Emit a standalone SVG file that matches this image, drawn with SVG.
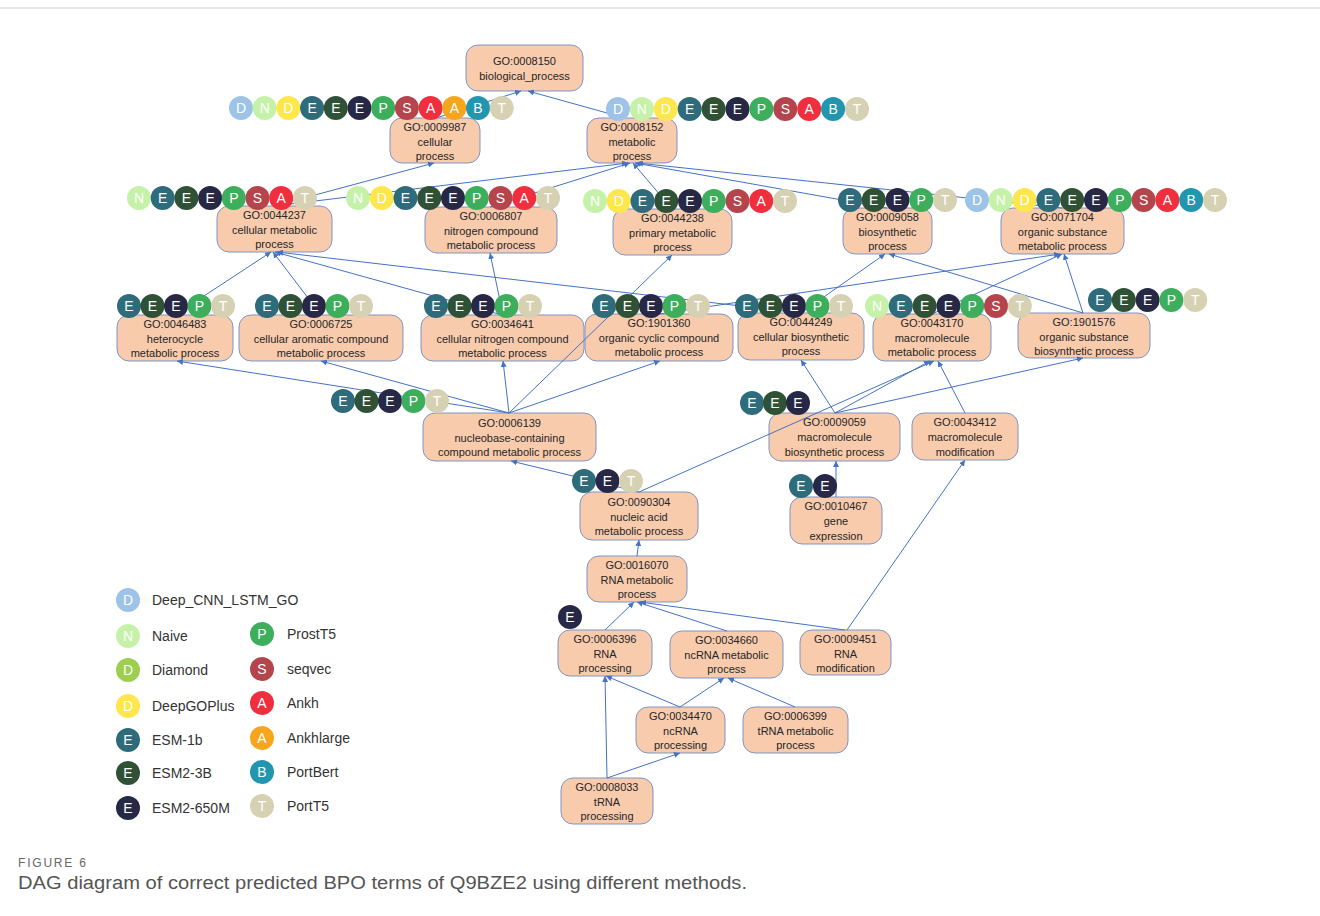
<svg xmlns="http://www.w3.org/2000/svg" width="1320" height="916" viewBox="0 0 1320 916">
<style>
.box{fill:#F8CBAD;stroke:#7F95C3;stroke-width:1}
.lbl{font-family:"Liberation Sans",Arial,sans-serif;font-size:11px;fill:#262626;text-anchor:middle}
.edge{stroke:#4472C4;stroke-width:1;fill:none;marker-end:url(#arr)}
.bl{font-family:"Liberation Sans",Arial,sans-serif;font-size:14px;fill:#fff;text-anchor:middle}
.leg{font-family:"Liberation Sans",Arial,sans-serif;font-size:14px;fill:#333}
</style>
<defs>
<marker id="arr" viewBox="0 0 10 10" refX="10" refY="5" markerWidth="6" markerHeight="6" markerUnits="userSpaceOnUse" orient="auto"><path d="M0,0 L10,5 L0,10 z" fill="#4472C4"/></marker>
<g id="dl"><circle r="12" fill="#9DC3E6"/><text class="bl" y="5">D</text></g>
<g id="na"><circle r="12" fill="#C5F2A8"/><text class="bl" y="5">N</text></g>
<g id="di"><circle r="12" fill="#9CCF4E"/><text class="bl" y="5">D</text></g>
<g id="dg"><circle r="12" fill="#FDE74C"/><text class="bl" y="5">D</text></g>
<g id="e1"><circle r="12" fill="#2E6B7B"/><text class="bl" y="5">E</text></g>
<g id="e3"><circle r="12" fill="#2F5136"/><text class="bl" y="5">E</text></g>
<g id="e6"><circle r="12" fill="#262845"/><text class="bl" y="5">E</text></g>
<g id="pt"><circle r="12" fill="#3DAE5C"/><text class="bl" y="5">P</text></g>
<g id="sv"><circle r="12" fill="#B5444C"/><text class="bl" y="5">S</text></g>
<g id="an"><circle r="12" fill="#EF2F3D"/><text class="bl" y="5">A</text></g>
<g id="al"><circle r="12" fill="#F6A51D"/><text class="bl" y="5">A</text></g>
<g id="pb"><circle r="12" fill="#2196AE"/><text class="bl" y="5">B</text></g>
<g id="t5"><circle r="12" fill="#D7D1B3"/><text class="bl" y="5">T</text></g>
</defs>
<rect width="1320" height="916" fill="#fff"/>
<line x1="0" y1="8" x2="1320" y2="8" stroke="#cfcfcf" stroke-width="1"/>

<g id="n0008150"><rect class="box" x="466" y="45" width="117" height="46" rx="12"/><text class="lbl" x="524.5" y="65">GO:0008150</text><text class="lbl" x="524.5" y="80">biological_process</text></g>
<g id="n0009987"><rect class="box" x="390" y="118" width="90" height="45" rx="12"/><text class="lbl" x="435" y="131">GO:0009987</text><text class="lbl" x="435" y="145.5">cellular</text><text class="lbl" x="435" y="160">process</text></g>
<g id="n0008152"><rect class="box" x="587" y="118" width="90" height="45" rx="12"/><text class="lbl" x="632" y="131">GO:0008152</text><text class="lbl" x="632" y="145.5">metabolic</text><text class="lbl" x="632" y="160">process</text></g>
<g id="n0044237"><rect class="box" x="217" y="206" width="115" height="46" rx="12"/><text class="lbl" x="274.5" y="219">GO:0044237</text><text class="lbl" x="274.5" y="233.5">cellular metabolic</text><text class="lbl" x="274.5" y="248">process</text></g>
<g id="n0006807"><rect class="box" x="425" y="207" width="132" height="46" rx="12"/><text class="lbl" x="491" y="220">GO:0006807</text><text class="lbl" x="491" y="234.5">nitrogen compound</text><text class="lbl" x="491" y="249">metabolic process</text></g>
<g id="n0044238"><rect class="box" x="613" y="209" width="119" height="46" rx="12"/><text class="lbl" x="672.5" y="222">GO:0044238</text><text class="lbl" x="672.5" y="236.5">primary metabolic</text><text class="lbl" x="672.5" y="251">process</text></g>
<g id="n0009058"><rect class="box" x="843" y="208" width="89" height="46" rx="12"/><text class="lbl" x="887.5" y="221">GO:0009058</text><text class="lbl" x="887.5" y="235.5">biosynthetic</text><text class="lbl" x="887.5" y="250">process</text></g>
<g id="n0071704"><rect class="box" x="1001" y="208" width="123" height="46" rx="12"/><text class="lbl" x="1062.5" y="221">GO:0071704</text><text class="lbl" x="1062.5" y="235.5">organic substance</text><text class="lbl" x="1062.5" y="250">metabolic process</text></g>
<g id="n0046483"><rect class="box" x="117" y="315" width="116" height="46" rx="12"/><text class="lbl" x="175" y="328">GO:0046483</text><text class="lbl" x="175" y="342.5">heterocycle</text><text class="lbl" x="175" y="357">metabolic process</text></g>
<g id="n0006725"><rect class="box" x="239" y="315" width="164" height="46" rx="12"/><text class="lbl" x="321" y="328">GO:0006725</text><text class="lbl" x="321" y="342.5">cellular aromatic compound</text><text class="lbl" x="321" y="357">metabolic process</text></g>
<g id="n0034641"><rect class="box" x="421" y="315" width="163" height="46" rx="12"/><text class="lbl" x="502.5" y="328">GO:0034641</text><text class="lbl" x="502.5" y="342.5">cellular nitrogen compound</text><text class="lbl" x="502.5" y="357">metabolic process</text></g>
<g id="n1901360"><rect class="box" x="585" y="314" width="148" height="47" rx="12"/><text class="lbl" x="659" y="327">GO:1901360</text><text class="lbl" x="659" y="341.5">organic cyclic compound</text><text class="lbl" x="659" y="356">metabolic process</text></g>
<g id="n0044249"><rect class="box" x="738" y="313" width="126" height="47" rx="12"/><text class="lbl" x="801" y="326">GO:0044249</text><text class="lbl" x="801" y="340.5">cellular biosynthetic</text><text class="lbl" x="801" y="355">process</text></g>
<g id="n0043170"><rect class="box" x="873" y="314" width="118" height="47" rx="12"/><text class="lbl" x="932" y="327">GO:0043170</text><text class="lbl" x="932" y="341.5">macromolecule</text><text class="lbl" x="932" y="356">metabolic process</text></g>
<g id="n1901576"><rect class="box" x="1018" y="313" width="132" height="45" rx="12"/><text class="lbl" x="1084" y="326">GO:1901576</text><text class="lbl" x="1084" y="340.5">organic substance</text><text class="lbl" x="1084" y="355">biosynthetic process</text></g>
<g id="n0006139"><rect class="box" x="423" y="413" width="173" height="48" rx="12"/><text class="lbl" x="509.5" y="427">GO:0006139</text><text class="lbl" x="509.5" y="441.5">nucleobase-containing</text><text class="lbl" x="509.5" y="456">compound metabolic process</text></g>
<g id="n0009059"><rect class="box" x="769" y="413" width="131" height="48" rx="12"/><text class="lbl" x="834.5" y="426">GO:0009059</text><text class="lbl" x="834.5" y="441">macromolecule</text><text class="lbl" x="834.5" y="455.5">biosynthetic process</text></g>
<g id="n0043412"><rect class="box" x="912" y="413" width="106" height="47" rx="12"/><text class="lbl" x="965" y="426">GO:0043412</text><text class="lbl" x="965" y="441">macromolecule</text><text class="lbl" x="965" y="455.5">modification</text></g>
<g id="n0090304"><rect class="box" x="580" y="492" width="118" height="48" rx="12"/><text class="lbl" x="639" y="506">GO:0090304</text><text class="lbl" x="639" y="520.5">nucleic acid</text><text class="lbl" x="639" y="535">metabolic process</text></g>
<g id="n0010467"><rect class="box" x="790" y="497" width="92" height="47" rx="12"/><text class="lbl" x="836" y="510">GO:0010467</text><text class="lbl" x="836" y="525">gene</text><text class="lbl" x="836" y="539.5">expression</text></g>
<g id="n0016070"><rect class="box" x="587" y="556" width="100" height="46" rx="12"/><text class="lbl" x="637" y="569">GO:0016070</text><text class="lbl" x="637" y="583.5">RNA metabolic</text><text class="lbl" x="637" y="598">process</text></g>
<g id="n0006396"><rect class="box" x="558" y="630" width="94" height="46" rx="12"/><text class="lbl" x="605" y="643">GO:0006396</text><text class="lbl" x="605" y="657.5">RNA</text><text class="lbl" x="605" y="672">processing</text></g>
<g id="n0034660"><rect class="box" x="670" y="631" width="113" height="47" rx="12"/><text class="lbl" x="726.5" y="644">GO:0034660</text><text class="lbl" x="726.5" y="658.5">ncRNA metabolic</text><text class="lbl" x="726.5" y="673">process</text></g>
<g id="n0009451"><rect class="box" x="800" y="630" width="91" height="45" rx="12"/><text class="lbl" x="845.5" y="643">GO:0009451</text><text class="lbl" x="845.5" y="657.5">RNA</text><text class="lbl" x="845.5" y="672">modification</text></g>
<g id="n0034470"><rect class="box" x="636" y="707" width="89" height="46" rx="12"/><text class="lbl" x="680.5" y="720">GO:0034470</text><text class="lbl" x="680.5" y="734.5">ncRNA</text><text class="lbl" x="680.5" y="749">processing</text></g>
<g id="n0006399"><rect class="box" x="743" y="707" width="105" height="46" rx="12"/><text class="lbl" x="795.5" y="720">GO:0006399</text><text class="lbl" x="795.5" y="734.5">tRNA metabolic</text><text class="lbl" x="795.5" y="749">process</text></g>
<g id="n0008033"><rect class="box" x="561" y="778" width="92" height="46" rx="12"/><text class="lbl" x="607" y="791">GO:0008033</text><text class="lbl" x="607" y="805.5">tRNA</text><text class="lbl" x="607" y="820">processing</text></g>

<g id="connectors">
<line class="edge" x1="436" y1="118" x2="521" y2="91"/>
<line class="edge" x1="625" y1="118" x2="528" y2="91"/>
<line class="edge" x1="274" y1="206" x2="434" y2="163"/>
<line class="edge" x1="274" y1="206" x2="628" y2="163"/>
<line class="edge" x1="490" y1="207" x2="630" y2="163"/>
<line class="edge" x1="672" y1="209" x2="633" y2="163"/>
<line class="edge" x1="887" y1="208" x2="635" y2="163"/>
<line class="edge" x1="1062" y1="208" x2="637" y2="163"/>
<line class="edge" x1="175" y1="315" x2="271" y2="252"/>
<line class="edge" x1="321" y1="315" x2="273" y2="252"/>
<line class="edge" x1="502" y1="315" x2="275" y2="252"/>
<line class="edge" x1="801" y1="313" x2="277" y2="252"/>
<line class="edge" x1="503" y1="315" x2="490" y2="253"/>
<line class="edge" x1="659" y1="314" x2="1060" y2="254"/>
<line class="edge" x1="801" y1="313" x2="885" y2="254"/>
<line class="edge" x1="1083" y1="313" x2="889" y2="254"/>
<line class="edge" x1="932" y1="314" x2="1062" y2="254"/>
<line class="edge" x1="1083" y1="313" x2="1064" y2="254"/>
<line class="edge" x1="509" y1="413" x2="177" y2="361"/>
<line class="edge" x1="509" y1="413" x2="321" y2="361"/>
<line class="edge" x1="509" y1="413" x2="503" y2="361"/>
<line class="edge" x1="509" y1="413" x2="660" y2="361"/>
<line class="edge" x1="509" y1="413" x2="672" y2="255"/>
<line class="edge" x1="835" y1="413" x2="801" y2="360"/>
<line class="edge" x1="835" y1="413" x2="930" y2="361"/>
<line class="edge" x1="835" y1="413" x2="1083" y2="358"/>
<line class="edge" x1="965" y1="413" x2="938" y2="361"/>
<line class="edge" x1="639" y1="492" x2="511" y2="461"/>
<line class="edge" x1="639" y1="492" x2="934" y2="361"/>
<line class="edge" x1="836" y1="497" x2="836" y2="461"/>
<line class="edge" x1="637" y1="556" x2="639" y2="540"/>
<line class="edge" x1="605" y1="630" x2="634" y2="602"/>
<line class="edge" x1="727" y1="631" x2="637" y2="602"/>
<line class="edge" x1="845" y1="630" x2="640" y2="602"/>
<line class="edge" x1="847" y1="630" x2="965" y2="460"/>
<line class="edge" x1="680" y1="707" x2="606" y2="676"/>
<line class="edge" x1="680" y1="707" x2="724" y2="678"/>
<line class="edge" x1="795" y1="707" x2="728" y2="678"/>
<line class="edge" x1="607" y1="778" x2="605" y2="676"/>
<line class="edge" x1="607" y1="778" x2="680" y2="753"/>
</g>

<g id="b0009987" transform="translate(0,108)"><use href="#dl" x="241"/><use href="#na" x="264.7"/><use href="#dg" x="288.4"/><use href="#e1" x="312.1"/><use href="#e3" x="335.8"/><use href="#e6" x="359.5"/><use href="#pt" x="383.2"/><use href="#sv" x="406.9"/><use href="#an" x="430.6"/><use href="#al" x="454.3"/><use href="#pb" x="478"/><use href="#t5" x="501.7"/></g>
<g id="b0008152" transform="translate(0,109)"><use href="#dl" x="618"/><use href="#na" x="641.9"/><use href="#dg" x="665.8"/><use href="#e1" x="689.7"/><use href="#e3" x="713.6"/><use href="#e6" x="737.5"/><use href="#pt" x="761.4"/><use href="#sv" x="785.3"/><use href="#an" x="809.2"/><use href="#pb" x="833.1"/><use href="#t5" x="857"/></g>
<g id="b0044237" transform="translate(0,198)"><use href="#na" x="139"/><use href="#e1" x="162.7"/><use href="#e3" x="186.4"/><use href="#e6" x="210.1"/><use href="#pt" x="233.8"/><use href="#sv" x="257.5"/><use href="#an" x="281.2"/><use href="#t5" x="304.9"/></g>
<g id="b0006807" transform="translate(0,198)"><use href="#na" x="358"/><use href="#dg" x="381.75"/><use href="#e1" x="405.5"/><use href="#e3" x="429.25"/><use href="#e6" x="453"/><use href="#pt" x="476.75"/><use href="#sv" x="500.5"/><use href="#an" x="524.25"/><use href="#t5" x="548"/></g>
<g id="b0044238" transform="translate(0,201)"><use href="#na" x="595"/><use href="#dg" x="618.75"/><use href="#e1" x="642.5"/><use href="#e3" x="666.25"/><use href="#e6" x="690"/><use href="#pt" x="713.75"/><use href="#sv" x="737.5"/><use href="#an" x="761.25"/><use href="#t5" x="785"/></g>
<g id="b0009058" transform="translate(0,200)"><use href="#e1" x="850"/><use href="#e3" x="873.75"/><use href="#e6" x="897.5"/><use href="#pt" x="921.25"/><use href="#t5" x="945"/></g>
<g id="b0071704" transform="translate(0,200)"><use href="#dl" x="977"/><use href="#na" x="1000.8"/><use href="#dg" x="1024.6"/><use href="#e1" x="1048.4"/><use href="#e3" x="1072.2"/><use href="#e6" x="1096"/><use href="#pt" x="1119.8"/><use href="#sv" x="1143.6"/><use href="#an" x="1167.4"/><use href="#pb" x="1191.2"/><use href="#t5" x="1215"/></g>
<g id="b0046483" transform="translate(0,306)"><use href="#e1" x="129"/><use href="#e3" x="152.5"/><use href="#e6" x="176"/><use href="#pt" x="199.5"/><use href="#t5" x="223"/></g>
<g id="b0006725" transform="translate(0,306)"><use href="#e1" x="267"/><use href="#e3" x="290.5"/><use href="#e6" x="314"/><use href="#pt" x="337.5"/><use href="#t5" x="361"/></g>
<g id="b0034641" transform="translate(0,306)"><use href="#e1" x="436"/><use href="#e3" x="459.5"/><use href="#e6" x="483"/><use href="#pt" x="506.5"/><use href="#t5" x="530"/></g>
<g id="b1901360" transform="translate(0,306)"><use href="#e1" x="604"/><use href="#e3" x="627.5"/><use href="#e6" x="651"/><use href="#pt" x="674.5"/><use href="#t5" x="698"/></g>
<g id="b0044249" transform="translate(0,306)"><use href="#e1" x="747"/><use href="#e3" x="770.5"/><use href="#e6" x="794"/><use href="#pt" x="817.5"/><use href="#t5" x="841"/></g>
<g id="b0043170" transform="translate(0,306)"><use href="#na" x="877"/><use href="#e1" x="900.8"/><use href="#e3" x="924.6"/><use href="#e6" x="948.4"/><use href="#pt" x="972.2"/><use href="#sv" x="996"/><use href="#t5" x="1019.8"/></g>
<g id="b1901576" transform="translate(0,300)"><use href="#e1" x="1100"/><use href="#e3" x="1123.8"/><use href="#e6" x="1147.6"/><use href="#pt" x="1171.4"/><use href="#t5" x="1195.2"/></g>
<g id="b0006139" transform="translate(0,401)"><use href="#e1" x="343"/><use href="#e3" x="366.5"/><use href="#e6" x="390"/><use href="#pt" x="413.5"/><use href="#t5" x="437"/></g>
<g id="b0009059" transform="translate(0,403)"><use href="#e1" x="752"/><use href="#e3" x="775"/><use href="#e6" x="798"/></g>
<g id="b0090304" transform="translate(0,481)"><use href="#e1" x="584"/><use href="#e6" x="607.5"/><use href="#t5" x="631"/></g>
<g id="b0010467" transform="translate(0,486)"><use href="#e1" x="801"/><use href="#e6" x="825"/></g>
<g id="b0006396" transform="translate(0,617)"><use href="#e6" x="570"/></g>

<g id="legend">
<use href="#dl" x="128" y="600"/><text class="leg" x="152" y="605">Deep_CNN_LSTM_GO</text>
<use href="#na" x="128" y="636"/><text class="leg" x="152" y="641">Naive</text>
<use href="#di" x="128" y="670"/><text class="leg" x="152" y="675">Diamond</text>
<use href="#dg" x="128" y="706"/><text class="leg" x="152" y="711">DeepGOPlus</text>
<use href="#e1" x="128" y="740"/><text class="leg" x="152" y="745">ESM-1b</text>
<use href="#e3" x="128" y="773"/><text class="leg" x="152" y="778">ESM2-3B</text>
<use href="#e6" x="128" y="808"/><text class="leg" x="152" y="813">ESM2-650M</text>
<use href="#pt" x="262" y="634"/><text class="leg" x="287" y="639">ProstT5</text>
<use href="#sv" x="262" y="669"/><text class="leg" x="287" y="674">seqvec</text>
<use href="#an" x="262" y="703"/><text class="leg" x="287" y="708">Ankh</text>
<use href="#al" x="262" y="738"/><text class="leg" x="287" y="743">Ankhlarge</text>
<use href="#pb" x="262" y="772"/><text class="leg" x="287" y="777">PortBert</text>
<use href="#t5" x="262" y="806"/><text class="leg" x="287" y="811">PortT5</text>
</g>

<text x="18" y="867" font-family="Liberation Sans, Arial, sans-serif" font-size="12" letter-spacing="1.8" fill="#666">FIGURE 6</text>
<text x="18" y="889" font-family="Liberation Sans, Arial, sans-serif" font-size="18" fill="#555" textLength="729" lengthAdjust="spacingAndGlyphs">DAG diagram of correct predicted BPO terms of Q9BZE2 using different methods.</text>
</svg>
